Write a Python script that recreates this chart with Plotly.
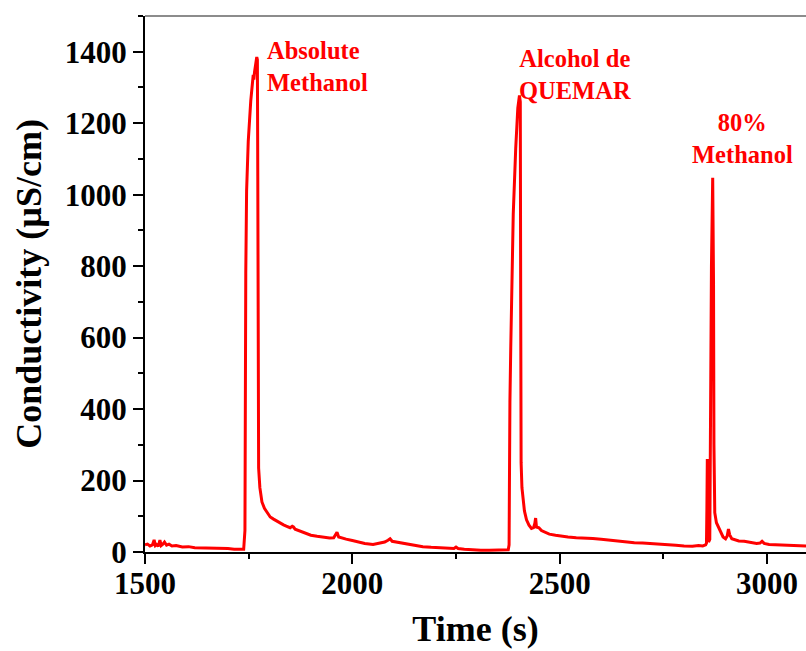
import plotly.graph_objects as go

# conductivity trace (time in s, conductivity in uS/cm)
time_s = [
    1500, 1506, 1512, 1518, 1522, 1525, 1528, 1532, 1536, 1539, 1543, 1547, 1552, 1558, 1565,
    1575, 1590, 1605, 1620, 1640, 1660, 1680, 1700, 1715, 1730, 1738,
    1741, 1741.5, 1742, 1743, 1745, 1749, 1755, 1761, 1762.5, 1764, 1769.5, 1771, 1772, 1773,
    1774, 1777, 1782, 1788, 1795, 1802, 1810, 1818, 1826, 1834, 1842, 1850, 1855, 1858, 1862,
    1870, 1880, 1890, 1900, 1915, 1930, 1945, 1955, 1960, 1963, 1967, 1972, 1985, 2000, 2015,
    2030, 2050, 2065, 2078, 2086, 2091, 2096, 2105, 2118, 2132, 2150, 2170, 2190, 2210, 2230,
    2245, 2250, 2255, 2270, 2290, 2310, 2330, 2350, 2365, 2376,
    2378, 2379, 2380, 2382, 2388, 2394, 2399, 2403, 2405, 2406, 2407, 2409, 2411, 2415, 2420,
    2426, 2432, 2437, 2440, 2442, 2444, 2450, 2456, 2465, 2475, 2490, 2505, 2520, 2540, 2560,
    2580, 2600, 2620, 2640, 2660, 2680, 2700, 2720, 2740, 2760, 2780, 2800, 2820, 2835, 2845,
    2852,
    2854, 2855, 2856, 2857, 2859, 2862, 2864, 2866, 2869, 2871, 2872, 2874, 2878, 2883, 2888,
    2894, 2900, 2904, 2907, 2910, 2915, 2922, 2932, 2945, 2955, 2965, 2975, 2983, 2988, 2993,
    3005, 3020, 3040, 3060, 3080, 3094,
]
conductivity = [
    20, 22, 17, 20, 34, 18, 21, 16, 33, 18, 22, 28, 19, 22, 17,
    18, 14, 15, 12, 12, 11, 10, 10, 8, 7, 8,
    60, 300, 520, 780, 1010, 1150, 1262, 1335, 1322, 1342, 1385, 1378, 1050, 420,
    235, 180, 140, 122, 108, 98, 92, 86, 80, 76, 72, 68, 72, 70, 64,
    60, 55, 50, 47, 44, 41, 39, 40, 52, 55, 42, 40, 36, 32, 28,
    24, 21, 24, 28, 33, 37, 30, 28, 26, 22, 18, 15, 13, 12, 11,
    10, 14, 10, 8, 6, 5, 5, 5, 5, 6,
    20, 291, 420, 571, 945, 1130, 1242, 1278, 1260, 700, 250, 180, 150, 115, 90,
    75, 66, 68, 80, 95, 70, 68, 60, 55, 50, 47, 44, 42, 40, 40,
    38, 36, 33, 30, 28, 26, 25, 24, 22, 20, 19, 17, 16, 18, 17,
    20,
    25, 120, 260, 60, 28, 35, 450, 800, 1047, 750, 300, 110, 82, 70, 58,
    42, 37, 45, 64, 48, 37, 34, 31, 30, 28, 26, 24, 25, 30, 24,
    21, 20, 19, 18, 17, 17,
]

# peak labels
label_text = ["Absolute<br>Methanol", "Alcohol de<br>QUEMAR", "80%<br>Methanol"]
label_x = [1789, 2537, 2942]
label_y = [1359, 1337, 1157]
label_anchor = ["left", "center", "center"]

serif = "Liberation Serif"

fig = go.Figure()
fig.add_trace(go.Scatter(x=time_s, y=conductivity, mode="lines",
                         line=dict(color="#ff0000", width=3), showlegend=False))

for txt, lx, ly, anc in zip(label_text, label_x, label_y, label_anchor):
    fig.add_annotation(x=lx, y=ly, text=txt, showarrow=False, xanchor=anc, yanchor="middle",
                       align=anc,
                       font=dict(family=serif, size=24.5, color="#ff0000", weight="bold"))

# thin grey frame line on top
fig.add_shape(type="line", xref="paper", yref="paper", x0=0, x1=1, y0=1, y1=1,
              line=dict(color="#666666", width=1.5))

axis_common = dict(showline=True, linecolor="black", linewidth=2, ticks="outside",
                   ticklen=10, tickwidth=2, tickcolor="black", showgrid=False, zeroline=False,
                   automargin=False,
                   tickfont=dict(family=serif, size=31, color="black", weight="bold"))

fig.update_xaxes(range=[1500, 3094], tickvals=[1500, 2000, 2500, 3000], ticklabelstandoff=-7,
                 minor=dict(ticks="outside", ticklen=5, tickwidth=2, tickcolor="black", dtick=250, tick0=1500),
                 title=dict(text="Time (s)", standoff=16,
                            font=dict(family=serif, size=36, color="black", weight="bold")),
                 **axis_common)
fig.update_yaxes(range=[0, 1500], tickvals=[0, 200, 400, 600, 800, 1000, 1200, 1400],
                 minor=dict(ticks="outside", ticklen=5, tickwidth=2, tickcolor="black", dtick=100, tick0=0),
                 title=dict(text="Conductivity (µS/cm)", standoff=12,
                            font=dict(family=serif, size=36, color="black", weight="bold")),
                 **axis_common)

fig.update_layout(width=806, height=651, margin=dict(l=145, r=0, t=16, b=99),
                  plot_bgcolor="white", paper_bgcolor="white")

# drop the default 8px body margin so the figure fills the window exactly
fig.write_html("out.html", config={"displayModeBar": False},
               post_script="document.body.style.margin='0';"
               "document.body.style.overflow='hidden';")
